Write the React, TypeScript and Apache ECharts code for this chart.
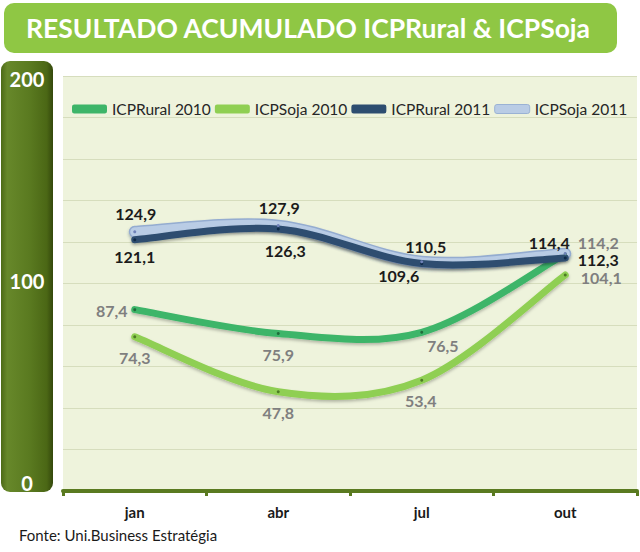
import React, { useEffect, useRef } from "react";
import * as echarts from "echarts";

const categories = ["jan", "abr", "jul", "out"];
const rural2010 = [87.4, 75.9, 76.5, 114.2];
const soja2010 = [74.3, 47.8, 53.4, 104.1];
const rural2011 = [121.1, 126.3, 109.6, 112.3];
const soja2011 = [124.9, 127.9, 110.5, 114.4];
const yTickLabels = [0, 100, 200];
const referenceValue = 100;

const titleText = "RESULTADO ACUMULADO ICPRural & ICPSoja";
const sourceText = "Fonte: Uni.Business Estratégia";

// label offsets (style only)
const offRural2010 = [[-23, 1], [0, 21], [21, 13], [33, -12]];
const offSoja2010 = [[0, 21], [0, 21], [-1, 20], [36, 3]];
const offRural2011 = [[0, 17], [7, 22], [-23, 12], [33, 2]];
const offSoja2011 = [[1, -18], [1, -18], [4, -15], [-16, -11]];

const FONT = "Lato, 'Open Sans', sans-serif";
const fmt = (v: number) => v.toFixed(1).replace(".", ",");

function mkData(vals: number[], offs: number[][], color: string) {
  return vals.map((v, i) => ({
    value: v,
    label: {
      show: true,
      position: "inside",
      offset: offs[i],
      formatter: () => fmt(v),
      color,
      fontSize: 16,
      fontWeight: "bold",
      fontFamily: FONT,
    },
  }));
}

// Excel-like smoothed curve (Catmull-Rom as cubic Bezier) through pixel points
function curvePath(pts: number[][]) {
  const n = pts.length;
  let d = `M${pts[0][0]},${pts[0][1]}`;
  for (let i = 0; i < n - 1; i++) {
    const p0 = pts[Math.max(i - 1, 0)];
    const p1 = pts[i];
    const p2 = pts[i + 1];
    const p3 = pts[Math.min(i + 2, n - 1)];
    const c1x = p1[0] + (p2[0] - p0[0]) / 6;
    const c1y = p1[1] + (p2[1] - p0[1]) / 6;
    const c2x = p2[0] - (p3[0] - p1[0]) / 6;
    const c2y = p2[1] - (p3[1] - p1[1]) / 6;
    d += ` C${c1x},${c1y} ${c2x},${c2y} ${p2[0]},${p2[1]}`;
  }
  return d;
}

function curveSeries(id: string, vals: number[], strokes: { color: string; width: number }[], z: number, shadow: string) {
  return {
    id,
    name: id,
    type: "custom",
    z,
    silent: true,
    data: [0],
    renderItem: (_params: any, api: any) => {
      const pts = vals.map((v, i) => api.coord([i, v]));
      const d = curvePath(pts);
      return {
        type: "group",
        children: strokes.map((s, k) => ({
          type: "path",
          shape: { pathData: d },
          style: {
            fill: "none",
            stroke: s.color,
            lineWidth: s.width,
            lineCap: "round",
            lineJoin: "round",
            shadowColor: k === 0 ? shadow : "transparent",
            shadowBlur: k === 0 ? 3 : 0,
            shadowOffsetY: k === 0 ? 2 : 0,
          },
        })),
      };
    },
  };
}

export default function App() {
  const ref = useRef<HTMLDivElement>(null);
  useEffect(() => {
    document.body.style.margin = "0";
    const chart = echarts.init(ref.current!, null, { renderer: "svg" });
    const cRural10 = "#3db569";
    const cSoja10 = "#8fcf52";
    const cRural11 = "#2d4d70";
    const cSoja11 = "#b9cce5";
    const gray = "#7f7f7f";
    const black = "#1b1b1b";
    const lineSeries = (name: string, vals: number[], offs: number[][], lc: string, dot: string) => ({
      name,
      type: "line",
      z: 10,
      data: mkData(vals, offs, lc),
      symbol: "circle",
      symbolSize: 3,
      itemStyle: { color: dot },
      lineStyle: { opacity: 0, width: 0 },
    });
    const option: any = {
      animation: false,
      backgroundColor: "#ffffff",
      grid: {
        left: 63,
        right: 3,
        top: 76,
        bottom: 61,
        show: true,
        backgroundColor: "#eef3dc",
        borderWidth: 0,
      },
      legend: {
        left: 67,
        top: 96,
        width: 600,
        itemWidth: 35,
        itemHeight: 9,
        itemGap: 4,
        icon: "roundRect",
        textStyle: { fontSize: 15.5, color: "#262626", fontFamily: FONT },
        data: [
          { name: "ICPRural 2010", itemStyle: { color: cRural10 } },
          { name: "ICPSoja 2010", itemStyle: { color: cSoja10 } },
          { name: "ICPRural 2011", itemStyle: { color: cRural11 } },
          { name: "ICPSoja 2011", itemStyle: { color: cSoja11, borderColor: "#9ab2d4", borderWidth: 1 } },
        ],
      },
      xAxis: {
        type: "category",
        data: categories,
        boundaryGap: true,
        axisLine: { lineStyle: { color: "#5a7a20", width: 4 } },
        axisTick: { show: true, length: 5, lineStyle: { color: "#5a7a20", width: 3 } },
        axisLabel: { fontSize: 15, fontWeight: "bold", color: "#1a1a1a", fontFamily: FONT, margin: 13 },
      },
      yAxis: {
        type: "value",
        min: 0,
        max: 200,
        interval: 20,
        axisLine: { show: false },
        axisTick: { show: false },
        splitLine: { lineStyle: { color: "#d6ddbd", width: 1 } },
        axisLabel: {
          align: "center",
          margin: 36,
          formatter: (v: number) => {
            if (!yTickLabels.includes(v)) return "";
            if (v === 0) return "{b|" + v + "}";
            if (v === 200) return "{t|" + v + "}";
            return "{m|" + v + "}";
          },
          rich: {
            b: { color: "#fff", fontSize: 20, fontWeight: "bold", fontFamily: FONT, padding: [0, 0, 16, 0] },
            t: { color: "#fff", fontSize: 20, fontWeight: "bold", fontFamily: FONT, padding: [6, 0, 0, 0] },
            m: { color: "#fff", fontSize: 20, fontWeight: "bold", fontFamily: FONT, padding: [0, 0, 6, 0] },
          },
        },
      },
      series: [
        curveSeries("c_r10", rural2010, [{ color: cRural10, width: 7 }], 3, "rgba(0,0,0,0.25)"),
        curveSeries("c_s10", soja2010, [{ color: cSoja10, width: 7 }], 3, "rgba(0,0,0,0.25)"),
        curveSeries("c_s11", soja2011, [{ color: "#94acd0", width: 12 }, { color: cSoja11, width: 9 }], 4, "rgba(40,60,100,0.4)"),
        curveSeries("c_r11", rural2011, [{ color: cRural11, width: 7 }], 5, "rgba(0,0,0,0.3)"),
        lineSeries("ICPRural 2010", rural2010, offRural2010, gray, "#1f6b3a"),
        lineSeries("ICPSoja 2010", soja2010, offSoja2010, gray, "#4d7a25"),
        lineSeries("ICPRural 2011", rural2011, offRural2011, black, "#0f2a48"),
        lineSeries("ICPSoja 2011", soja2011, offSoja2011, black, "#6f82b8"),
      ],
    };
    chart.setOption(option);
    const yRef = chart.convertToPixel({ yAxisIndex: 0 }, referenceValue) as number;
    chart.setOption({
      graphic: [
        {
          type: "rect",
          z: -1,
          shape: { x: 4, y: 3, width: 613, height: 50, r: 10 },
          style: { fill: "#8fc744" },
        },
        {
          type: "text",
          x: 308,
          y: 28,
          style: {
            text: titleText,
            fill: "#ffffff",
            font: "bold 26.5px " + FONT,
            textAlign: "center",
            textVerticalAlign: "middle",
          },
        },
        {
          type: "rect",
          z: -1,
          shape: { x: 1, y: 61, width: 52, height: 431, r: 9 },
          style: {
            fill: new echarts.graphic.LinearGradient(0, 0, 1, 0, [
              { offset: 0, color: "#4d6a16" },
              { offset: 0.12, color: "#67882a" },
              { offset: 0.55, color: "#5a7a20" },
              { offset: 0.88, color: "#4b6715" },
              { offset: 1, color: "#34480c" },
            ]),
          },
        },
        {
          type: "line",
          z: 10,
          shape: { x1: 74, y1: yRef, x2: 629, y2: yRef },
          style: { stroke: "#000000", lineWidth: 3, shadowColor: "rgba(0,0,0,0.35)", shadowBlur: 3, shadowOffsetY: 2 },
        },
        {
          type: "text",
          x: 19,
          y: 535,
          style: {
            text: sourceText,
            fill: "#1a1a1a",
            font: "15px " + FONT,
            textVerticalAlign: "middle",
          },
        },
      ],
    });
    return () => chart.dispose();
  }, []);
  return <div ref={ref} style={{ width: 640, height: 552 }} />;
}
